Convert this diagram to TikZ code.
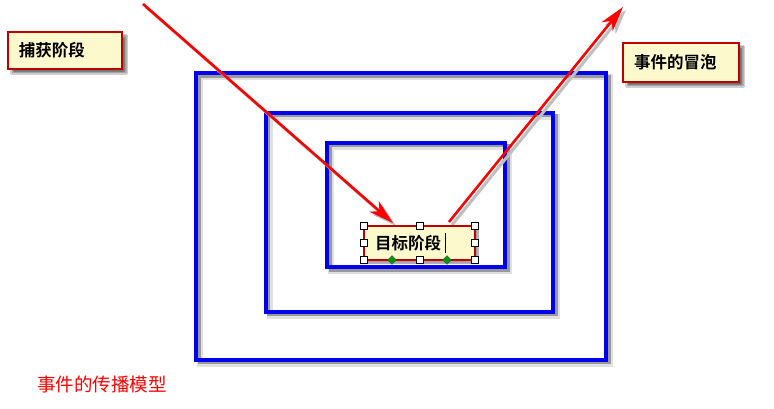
\documentclass[tikz,border=0pt]{standalone}
\usepackage{fontspec}
\newfontfamily\cjk{Noto Sans CJK SC}
\newfontfamily\cjkb{Noto Sans CJK SC Bold}
\usetikzlibrary{arrows.meta,shadows.blur,calc,shapes.geometric}
\definecolor{frameblue}{RGB}{0,0,240}
\definecolor{boxred}{RGB}{190,0,0}
\definecolor{boxfill}{RGB}{252,250,204}
\definecolor{hgreen}{RGB}{0,150,0}
\tikzset{
  frame/.style={draw=frameblue, line width=4pt, inner sep=0pt, outer sep=0pt, anchor=north west,
    preaction={draw=black!12, line width=6pt, transform canvas={shift={(4pt,-4pt)}}},
    preaction={draw=black!40, line width=3pt, transform canvas={shift={(3pt,-3pt)}}}},
  labelbox/.style={draw=boxred, line width=2.2pt, fill=boxfill, anchor=north west, outer sep=0pt,
    inner xsep=11pt, inner ysep=0pt, align=left, font=\cjkb\fontsize{16.5}{19}\selectfont,
    blur shadow={shadow xshift=4pt, shadow yshift=-4pt, shadow blur steps=6, shadow opacity=55}},
  redarrow/.style={draw=red, line width=2.6pt, -{Stealth[length=25pt,width=14pt,inset=7pt]},
    preaction={draw=black!25, line width=3pt, -{Stealth[length=25pt,width=14pt,inset=7pt]}, transform canvas={shift={(3pt,-3pt)}}}},
  handle/.style={draw=black, fill=white, line width=0.6pt, minimum size=7pt, inner sep=0pt},
  ghandle/.style={draw=black!70, fill=hgreen, line width=0.4pt, diamond, minimum size=9pt, inner sep=0pt},
}
\begin{document}
\begin{tikzpicture}[x=1pt,y=-1pt]
\useasboundingbox[fill=white] (0,0) rectangle (774,409);
% frames
\node[frame, minimum width=410pt, minimum height=286pt] (outer) at (196,73.5) {};
\node[frame, minimum width=287.5pt, minimum height=198.5pt] (middle) at (265.5,113) {};
\node[frame, minimum width=178pt, minimum height=124pt] (inner) at (327,143) {};
% label boxes
\node[labelbox, text width=92pt, minimum height=37pt] (capture) at (8,32) {捕获阶段};
\node[labelbox, text width=94pt, minimum height=39pt] (bubble) at (623,43) {事件的冒泡};
% arrows
\coordinate (capstart) at (143,4);
\coordinate (captip) at (393,223);
\coordinate (bubstart) at (449,222);
\coordinate (bubtip) at (623,7);
\draw[redarrow] (capstart) -- (captip);
\draw[redarrow] (bubstart) -- (bubtip);
% target box
\node[labelbox, text width=89pt, minimum height=34pt, blur shadow={shadow xshift=2pt, shadow yshift=-2pt, shadow opacity=30}] (target) at (364,226) {目标阶段};
\draw[line width=0.8pt] ($(target.north west)+(81,7)$) coordinate (cura) -- ($(target.north west)+(81,27)$) coordinate (curb);
% handles
\foreach \a in {north west,north,north east,west,east,south west,south,south east}{
  \node[handle] at (target.\a) {};
}
\node[ghandle] (g1) at ($(target.south west)+(28,0)$) {};
\node[ghandle] (g2) at ($(target.south west)+(83,0)$) {};
% caption
\node[anchor=west, text=red, font=\cjk\fontsize{18.5}{21}\selectfont, inner sep=0pt] (caption) at (37,384) {事件的传播模型};
\end{tikzpicture}
\end{document}
